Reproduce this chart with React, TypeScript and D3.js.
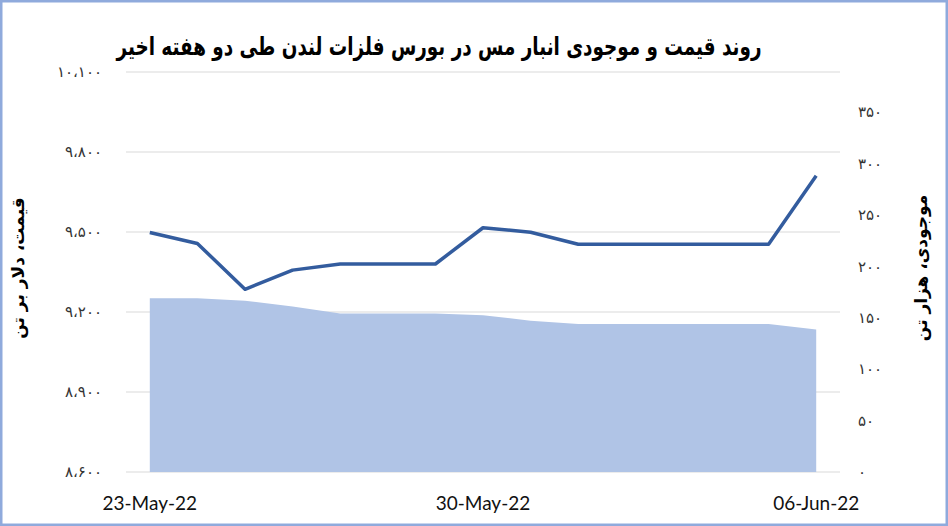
import React from "react";
import * as d3 from "d3";

const dates = [
  "2022-05-23", "2022-05-24", "2022-05-25", "2022-05-26", "2022-05-27",
  "2022-05-28", "2022-05-29", "2022-05-30", "2022-05-31", "2022-06-01",
  "2022-06-02", "2022-06-03", "2022-06-04", "2022-06-05", "2022-06-06",
];
const priceValues = [9498, 9457, 9285, 9357, 9380, 9380, 9380, 9516, 9499, 9454, 9454, 9454, 9454, 9454, 9711];
const stockValues = [169, 169, 166.5, 161, 154, 154, 154, 152.5, 147, 144, 144, 144, 144, 144, 138.5];
const priceTicks = [8600, 8900, 9200, 9500, 9800, 10100];
const stockTicks = [0, 50, 100, 150, 200, 250, 300, 350];
const xLabelDates = ["2022-05-23", "2022-05-30", "2022-06-06"];
const xLabelTexts = ["23-May-22", "30-May-22", "06-Jun-22"];

const titleText = "روند قیمت و موجودی انبار مس در بورس فلزات لندن طی دو هفته اخیر";
const leftTitle = "قیمت، دلار بر تن";
const rightTitle = "موجودی، هزار تن";

const W = 948;
const H = 526;

const toPersian = (n: number) =>
  d3.format(",")(n)
    .replace(/,/g, "،")
    .replace(/\d/g, (d) => "۰۱۲۳۴۵۶۷۸۹"[+d]);

export default function App() {
  const plotL = 126, plotR = 840, plotT = 72, plotB = 472;
  const x = d3.scalePoint<string>().domain(dates).range([plotL, plotR]).padding(0.5);
  const yL = d3.scaleLinear().domain([8600, 10100]).range([plotB, plotT]);
  const yR = d3.scaleLinear().domain([0, 350]).range([plotB, 112]);

  const line = d3.line<number>()
    .x((_, i) => x(dates[i]) as number)
    .y((d) => yL(d));
  const area = d3.area<number>()
    .x((_, i) => x(dates[i]) as number)
    .y0(yR(0))
    .y1((d) => yR(d));

  const arabicFont = "'DejaVu Sans', sans-serif";

  return (
    <svg width={W} height={H} style={{ position: "absolute", left: 0, top: 0 }}>
      <rect x={0} y={0} width={W} height={H} fill="#fff" />
      <rect x={1.25} y={1.25} width={W - 2.5} height={H - 2.5} fill="none" stroke="#8FAADC" strokeWidth={2.5} />

      <text
        transform="translate(439,55) scale(0.735,1)" textAnchor="middle" fontFamily={arabicFont} fontWeight="bold"
        fontSize={25} direction="rtl" fill="#000"
      >{titleText}</text>

      {priceTicks.map((t) => (
        <line key={"g" + t} x1={plotL} x2={plotR} y1={yL(t)} y2={yL(t)} stroke="#D9D9D9" strokeWidth={1} />
      ))}

      <path d={area(stockValues) || ""} fill="#B0C4E6" />
      <path d={line(priceValues) || ""} fill="none" stroke="#335C9E" strokeWidth={3.5} strokeLinejoin="round" />

      {priceTicks.map((t) => (
        <text key={"l" + t} x={102} y={yL(t)} dy="0.35em" textAnchor="end" fontFamily={arabicFont}
          fontSize={15} fill="#333">{toPersian(t)}</text>
      ))}
      {stockTicks.map((t) => (
        <text key={"r" + t} x={858} y={yR(t)} dy="0.35em" textAnchor="start" fontFamily={arabicFont}
          fontSize={15} fill="#333" direction="ltr">{toPersian(t)}</text>
      ))}

      {xLabelDates.map((d, i) => (
        <text key={d} x={x(d) as number} y={510} textAnchor="middle" fontFamily="Lato, 'Open Sans', sans-serif"
          fontSize={19} fill="#111">{xLabelTexts[i]}</text>
      ))}

      <text transform="translate(24,268) rotate(-90)" textAnchor="middle" fontFamily={arabicFont}
        fontWeight="bold" fontSize={17} direction="rtl" fill="#000">{leftTitle}</text>
      <text transform="translate(927,268) rotate(-90)" textAnchor="middle" fontFamily={arabicFont}
        fontWeight="bold" fontSize={17} direction="rtl" fill="#000">{rightTitle}</text>
    </svg>
  );
}
